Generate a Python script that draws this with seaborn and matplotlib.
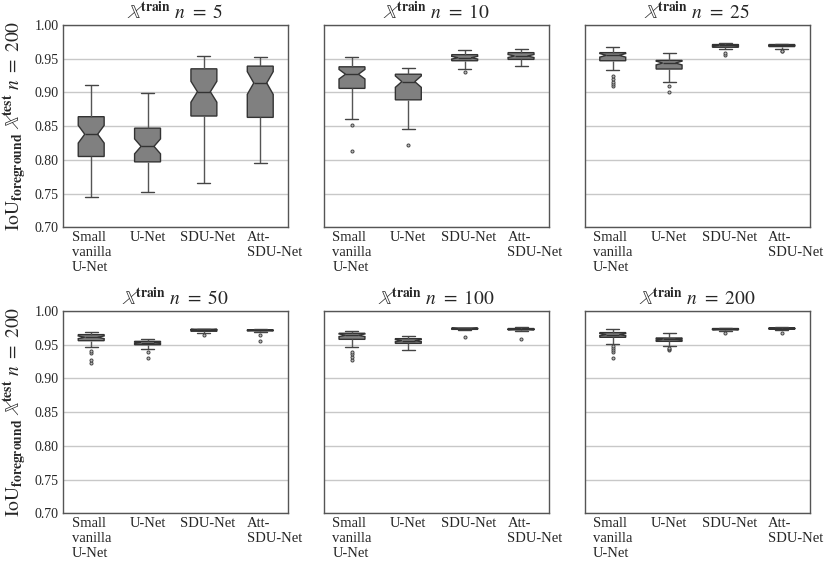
import matplotlib
matplotlib.use("Agg")
import matplotlib.pyplot as plt
import matplotlib.transforms as mtransforms
import numpy as np
import pandas as pd
import seaborn as sns

sns.set_style("white")
plt.rcParams["font.family"] = ["Liberation Serif", "DejaVu Serif"]
plt.rcParams["mathtext.fontset"] = "stix"

models = ["Small\nvanilla\nU-Net", "U-Net", "SDU-Net", "Att-\nSDU-Net"]
n_train = [5, 10, 25, 50, 100, 200]

# box statistics, one row per model, per panel
# (lower whisker, Q1, median, Q3, upper whisker)
stats_n5 = [
    [0.745, 0.805, 0.838, 0.864, 0.911],
    [0.752, 0.797, 0.820, 0.847, 0.899],
    [0.765, 0.865, 0.901, 0.935, 0.954],
    [0.796, 0.863, 0.914, 0.939, 0.953],
]
stats_n10 = [
    [0.860, 0.906, 0.927, 0.938, 0.952],
    [0.846, 0.889, 0.916, 0.927, 0.936],
    [0.935, 0.947, 0.9515, 0.956, 0.963],
    [0.939, 0.949, 0.954, 0.959, 0.964],
]
stats_n25 = [
    [0.933, 0.947, 0.955, 0.959, 0.968],
    [0.916, 0.9347, 0.9436, 0.9475, 0.958],
    [0.965, 0.967, 0.9698, 0.971, 0.974],
    [0.964, 0.968, 0.970, 0.971, 0.972],
]
stats_n50 = [
    [0.947, 0.956, 0.961, 0.965, 0.969],
    [0.943, 0.950, 0.953, 0.955, 0.959],
    [0.967, 0.970, 0.972, 0.973, 0.974],
    [0.969, 0.9705, 0.9715, 0.972, 0.973],
]
stats_n100 = [
    [0.946, 0.958, 0.964, 0.967, 0.971],
    [0.9426, 0.952, 0.956, 0.959, 0.963],
    [0.972, 0.9728, 0.9738, 0.9748, 0.975],
    [0.970, 0.972, 0.973, 0.974, 0.976],
]
stats_n200 = [
    [0.9515, 0.961, 0.965, 0.968, 0.973],
    [0.948, 0.955, 0.958, 0.960, 0.967],
    [0.971, 0.972, 0.973, 0.974, 0.975],
    [0.9715, 0.973, 0.974, 0.975, 0.976],
]

# outlying points
fliers_n5 = [[], [], [], []]
fliers_n10 = [[0.851, 0.813], [0.822], [0.930], []]
fliers_n25 = [[0.924, 0.920, 0.916, 0.912, 0.909], [0.910, 0.901], [0.959, 0.956], [0.962, 0.961]]
fliers_n50 = [[0.941, 0.938, 0.927, 0.923], [0.939, 0.930], [0.965], [0.965, 0.955]]
fliers_n100 = [[0.9396, 0.9356, 0.9317, 0.9277], [], [0.962], [0.958]]
fliers_n200 = [[0.9485, 0.9455, 0.942, 0.939, 0.931], [0.9455, 0.943, 0.9416], [0.968], [0.968]]

all_stats = [stats_n5, stats_n10, stats_n25, stats_n50, stats_n100, stats_n200]
all_fliers = [fliers_n5, fliers_n10, fliers_n25, fliers_n50, fliers_n100, fliers_n200]


def runs_from_stats(st, fl):
    # 50 sorted values that give back the read quartiles and whiskers
    lo, q1, med, q3, hi = st
    k = len(fl)
    counts = [1, 19 - (k + 1), 12, 18, 1]
    vals = np.repeat([lo, q1, med, q3, hi], counts)
    return np.concatenate([np.sort(fl), vals])


fig, axs = plt.subplots(2, 3, figsize=(8.26, 5.63), dpi=100, sharey=True)
fig.subplots_adjust(left=0.0763, right=0.9806, top=0.9556, bottom=0.0883,
                    wspace=0.157, hspace=0.414)

for idx, ax in enumerate(axs.flat):
    rows = []
    for m, st, fl in zip(models, all_stats[idx], all_fliers[idx]):
        for v in runs_from_stats(st, fl):
            rows.append((m, v))
    df = pd.DataFrame(rows, columns=["model", "iou"])

    sns.boxplot(data=df, x="model", y="iou", order=models, ax=ax, notch=True,
                width=0.46, color="#808080", saturation=1, linecolor="#333333",
                linewidth=1, fliersize=2.2,
                flierprops=dict(marker="o", markerfacecolor="#bbbbbb",
                                markeredgecolor="#444444", markeredgewidth=0.7),
                whiskerprops=dict(color="#555555"), capprops=dict(color="#444444"))

    ax.set_ylim(0.70, 1.00)
    ax.set_yticks(np.arange(0.70, 1.001, 0.05))
    ax.yaxis.set_major_formatter(matplotlib.ticker.FormatStrFormatter("%.2f"))
    ax.yaxis.grid(True, color="#c8c8c8", linewidth=1)
    ax.set_axisbelow(True)
    ax.tick_params(length=0, labelsize=10.5, pad=3)
    ax.tick_params(axis="y", labelsize=10)
    for s in ax.spines.values():
        s.set_color("#555555")
        s.set_linewidth(1)
    ax.set_xlabel("")
    ax.set_ylabel("")
    for j, lbl in enumerate(ax.get_xticklabels()):
        lbl.set_multialignment("left")
        if j == 3:
            lbl.set_transform(lbl.get_transform() +
                              mtransforms.ScaledTranslation(0.14, 0, fig.dpi_scale_trans))
        if j == 2:
            lbl.set_transform(lbl.get_transform() +
                              mtransforms.ScaledTranslation(0.04, 0, fig.dpi_scale_trans))
    ax.set_title(r"$\mathbb{X}^{\mathbf{train}}\ n\ =\ %d$" % n_train[idx], fontsize=14, pad=4)
    if idx % 3 == 0:
        ax.set_ylabel(r"$\mathrm{IoU}_{\mathbf{foreground}}\ \mathbb{X}^{\mathbf{test}}\ n\ =\ 200$",
                      fontsize=14, labelpad=4)

fig.savefig("out.png", dpi=100)
